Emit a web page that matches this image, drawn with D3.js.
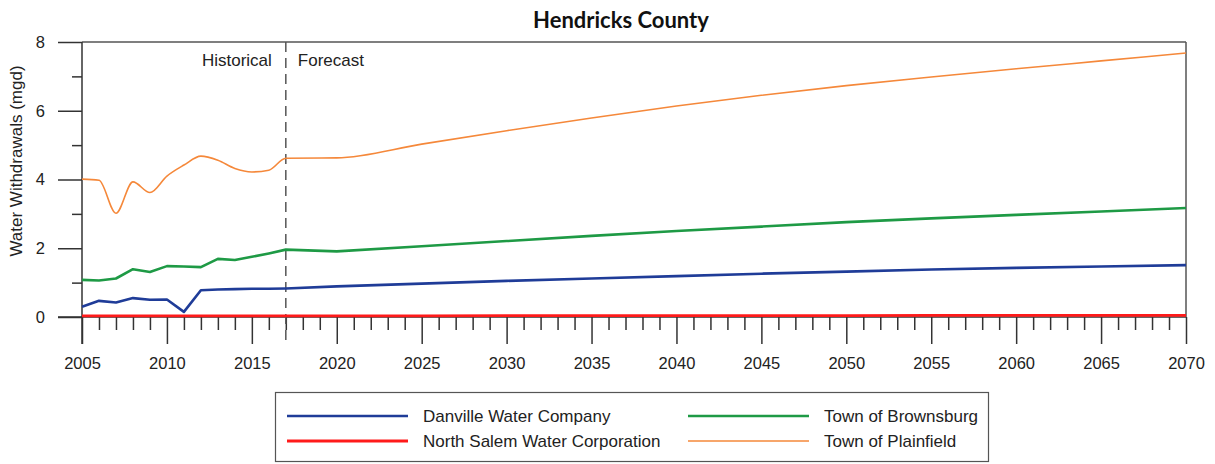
<!DOCTYPE html>
<html>
<head>
<meta charset="utf-8">
<script src="https://cdn.jsdelivr.net/npm/d3@7"></script>
<style>
  html, body { margin: 0; padding: 0; background: #fff; }
  svg { display: block; }
  text { font-family: "Liberation Sans", Arial, sans-serif; fill: #222; }
</style>
</head>
<body>
<svg id="chart" width="1215" height="464"></svg>
<script>
const years = [2005,2006,2007,2008,2009,2010,2011,2012,2013,2014,2015,2016,2017,
               2020,2025,2030,2035,2040,2045,2050,2055,2060,2065,2070];
const danville   = [0.30,0.47,0.42,0.55,0.50,0.51,0.15,0.78,0.80,0.81,0.82,0.82,0.83,
                    0.89,0.97,1.05,1.12,1.19,1.26,1.32,1.38,1.43,1.47,1.51];
const brownsburg = [1.08,1.06,1.12,1.39,1.31,1.48,1.47,1.45,1.69,1.66,1.75,1.85,1.96,
                    1.91,2.06,2.21,2.36,2.50,2.63,2.76,2.87,2.97,3.07,3.17];
const northSalem = [0.03,0.03,0.03,0.03,0.03,0.03,0.03,0.03,0.03,0.03,0.03,0.03,0.03,
                    0.03,0.03,0.04,0.04,0.04,0.04,0.04,0.05,0.05,0.05,0.05];
const plainfield = [4.01,3.98,3.02,3.93,3.62,4.10,4.42,4.68,4.56,4.32,4.22,4.27,4.62,
                    4.63,5.03,5.42,5.79,6.14,6.45,6.73,6.98,7.22,7.45,7.68];
const seriesNames = ["Danville Water Company","North Salem Water Corporation","Town of Brownsburg","Town of Plainfield"];
const yMajorTicks = [0,2,4,6,8];
const yMinorTicks = [1,3,5,7];
const xMajorTicks = d3.range(2005, 2071, 5);
const xMinorTicks = d3.range(2005, 2071, 1);
const splitYear = 2017;

const svg = d3.select("#chart");
const x = d3.scaleLinear().domain([2005, 2070]).range([82, 1186]);
const y = d3.scaleLinear().domain([0, 8]).range([317, 42]);

// Title
svg.append("text").attr("x", 621).attr("y", 28).attr("text-anchor", "middle")
  .style("font-family", "Lato, 'Open Sans', sans-serif").style("font-weight", "bold")
  .style("font-size", "22px").style("fill", "#111").text("Hendricks County");

// top and right border
svg.append("line").attr("x1", x(2005)).attr("x2", x(2070)).attr("y1", y(8)).attr("y2", y(8))
  .attr("stroke", "#555").attr("stroke-width", 1.5);
svg.append("line").attr("x1", x(2070)).attr("x2", x(2070)).attr("y1", y(8)).attr("y2", y(0))
  .attr("stroke", "#555").attr("stroke-width", 1.5);

// Y axis
svg.append("g").attr("transform", `translate(${x(2005)},0)`)
  .call(d3.axisLeft(y).tickValues(yMajorTicks).tickSize(24).tickPadding(13).tickFormat(d3.format("d")));
svg.append("g").attr("transform", `translate(${x(2005)},0)`)
  .call(d3.axisLeft(y).tickValues(yMinorTicks).tickSize(10).tickFormat(""));

// X axis
svg.append("g").attr("transform", `translate(0,${y(0)})`)
  .call(d3.axisBottom(x).tickValues(xMajorTicks).tickSize(27).tickPadding(13).tickFormat(d3.format("d")));
svg.append("g").attr("transform", `translate(0,${y(0)})`)
  .call(d3.axisBottom(x).tickValues(xMinorTicks.filter(v => v % 5 !== 0)).tickSize(13).tickFormat(""));

svg.selectAll(".domain").remove();
svg.selectAll(".tick line").attr("stroke", "#333").attr("stroke-width", 1.5);
svg.selectAll(".tick text").style("font-size", "16.5px").style("fill", "#222")
  .style("font-family", "'Liberation Sans', Arial, sans-serif");

// axis lines
svg.append("line").attr("x1", x(2005)).attr("x2", x(2005)).attr("y1", y(8)).attr("y2", y(0) + 27)
  .attr("stroke", "#333").attr("stroke-width", 1.5);
svg.append("line").attr("x1", x(2005) - 24).attr("x2", x(2070)).attr("y1", y(0)).attr("y2", y(0))
  .attr("stroke", "#333").attr("stroke-width", 1.5);

// Y label
svg.append("text").attr("transform", `translate(22,161) rotate(-90)`).attr("text-anchor", "middle")
  .style("font-size", "17px").text("Water Withdrawals (mgd)");

// divider
svg.append("line").attr("x1", x(splitYear)).attr("x2", x(splitYear)).attr("y1", y(8)).attr("y2", y(0) + 27)
  .attr("stroke", "#555").attr("stroke-width", 1.5).attr("stroke-dasharray", "10,6");
svg.append("text").attr("x", x(splitYear) - 14).attr("y", 66).attr("text-anchor", "end")
  .style("font-size", "17px").text("Historical");
svg.append("text").attr("x", x(splitYear) + 12).attr("y", 66)
  .style("font-size", "17px").text("Forecast");

// series
const series = [
  {name: seriesNames[0], vals: danville,   color: "#1f3c98", w: 2.6, curve: d3.curveLinear},
  {name: seriesNames[1], vals: northSalem, color: "#ff1a1a", w: 2.8, curve: d3.curveLinear},
  {name: seriesNames[2], vals: brownsburg, color: "#1e9a45", w: 2.6, curve: d3.curveLinear},
  {name: seriesNames[3], vals: plainfield, color: "#f5883a", w: 1.6, curve: d3.curveMonotoneX}
];
const drawOrder = [3, 2, 0, 1];
drawOrder.forEach(i => {
  const s = series[i];
  const line = d3.line().x((d, j) => x(years[j])).y(d => y(d)).curve(s.curve);
  svg.append("path").datum(s.vals).attr("d", line).attr("fill", "none")
    .attr("stroke", s.color).attr("stroke-width", s.w).attr("stroke-linejoin", "round");
});

// Legend
const lg = svg.append("g");
lg.append("rect").attr("x", 275.5).attr("y", 392.5).attr("width", 713).attr("height", 69)
  .attr("fill", "#fff").attr("stroke", "#555").attr("stroke-width", 1.2);
const legPos = [
  {lx: 287, ty: 416}, {lx: 287, ty: 441}, {lx: 688, ty: 416}, {lx: 688, ty: 441}
];
series.forEach((s, i) => {
  const p = legPos[i];
  lg.append("line").attr("x1", p.lx).attr("x2", p.lx + 121).attr("y1", p.ty).attr("y2", p.ty)
    .attr("stroke", s.color).attr("stroke-width", s.w);
  lg.append("text").attr("x", p.lx + 136).attr("y", p.ty + 6).style("font-size", "17px").text(s.name);
});
</script>
</body>
</html>
